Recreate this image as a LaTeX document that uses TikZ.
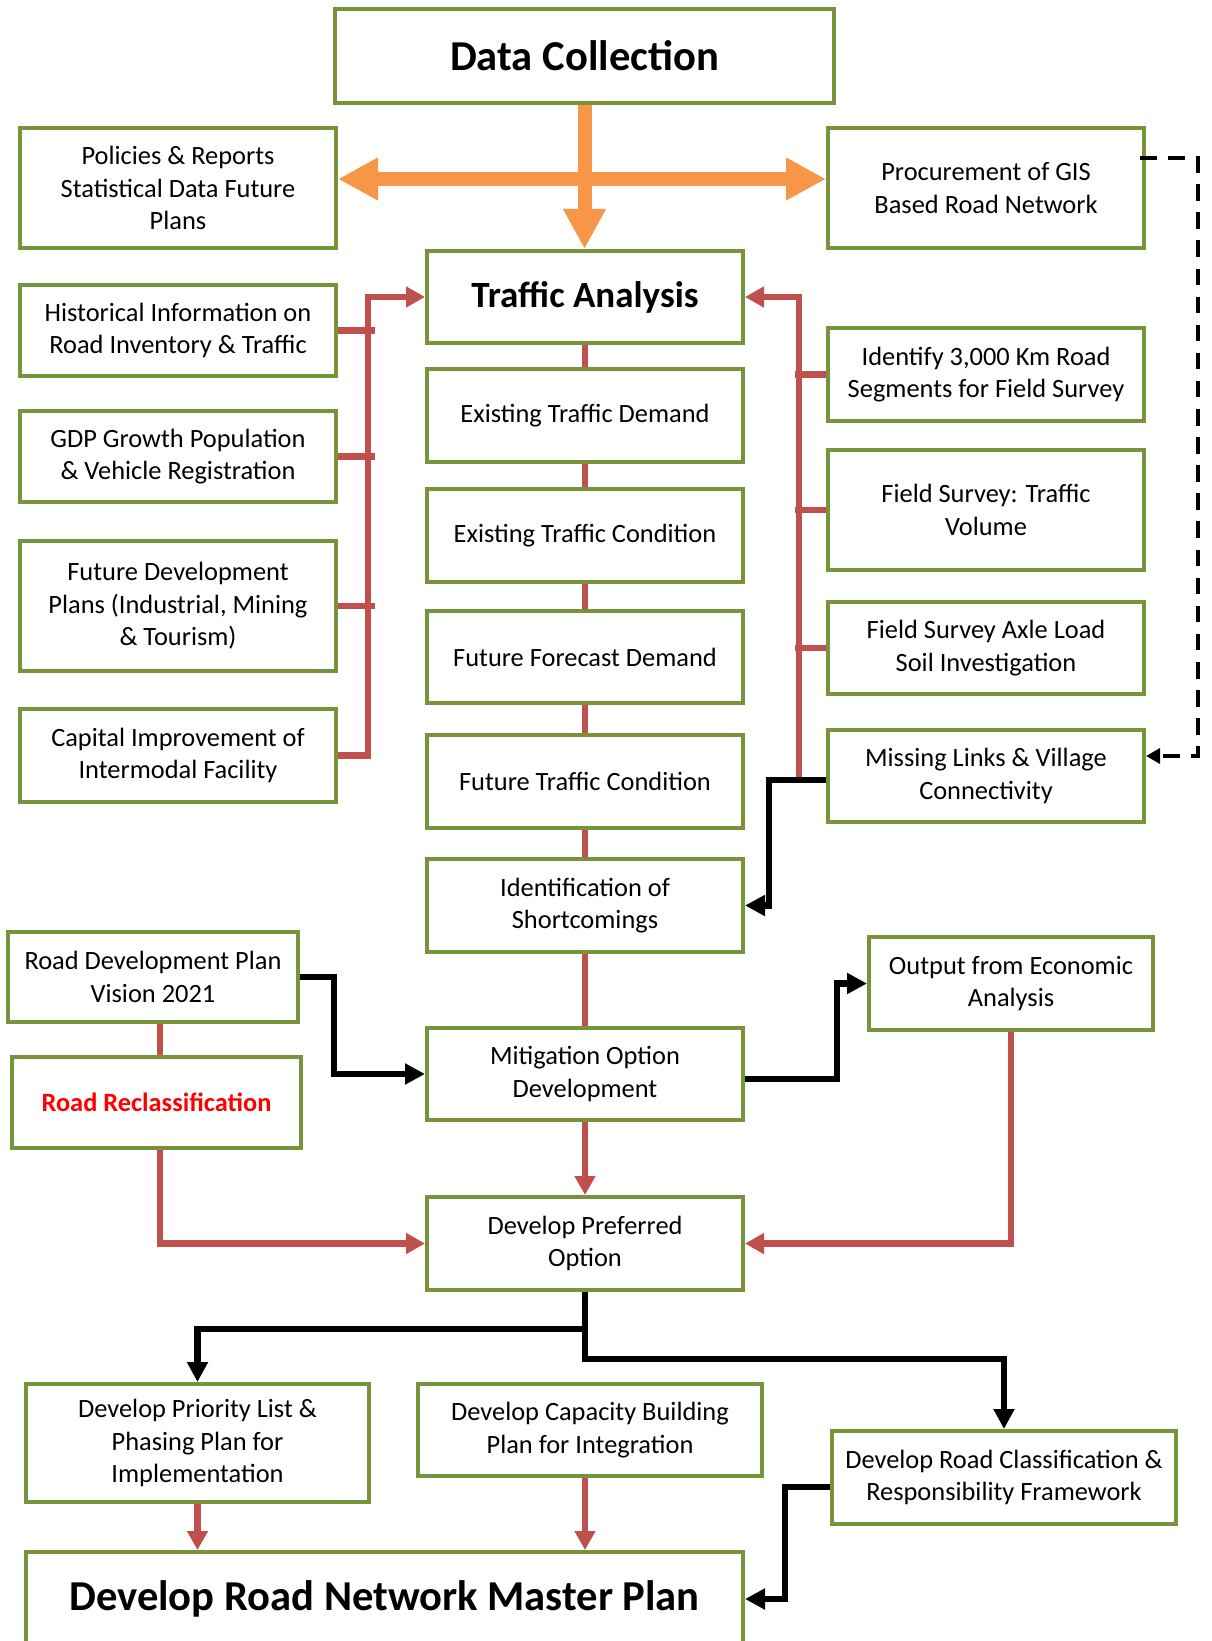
\documentclass[tikz,border=0pt]{standalone}
\usepackage{fontspec}
\setmainfont{Carlito}
\usetikzlibrary{arrows.meta,calc}
\definecolor{boxgreen}{HTML}{77933C}
\definecolor{linered}{HTML}{C0504D}
\definecolor{arrorange}{HTML}{F79646}
\definecolor{textred}{HTML}{FF0000}
\begin{document}
\begin{tikzpicture}[x=0.5pt,y=-0.5pt,
  box/.style={draw=boxgreen, line width=2pt, fill=white, align=center, inner sep=0pt,
    font=\fontsize{13.2}{16.2}\selectfont},
  bigtext/.style={font=\fontsize{21.3}{25}\selectfont\bfseries},
  midtext/.style={font=\fontsize{18.5}{22}\selectfont\bfseries},
  rl/.style={draw=linered, line width=3.4pt},
  bl/.style={draw=black, line width=3.3pt},
  ol/.style={draw=arrorange, line width=7pt},
  dl/.style={draw=black, line width=2.2pt, dash pattern=on 8.25pt off 5.8pt},
  rtip/.style={-{Triangle[length=9.5pt,width=10pt]}},
  btip/.style={-{Triangle[length=10pt,width=10pt]}},
  dtip/.style={-{Triangle[length=7pt,width=7.5pt]}}
]
\useasboundingbox (0,0) rectangle (1211,1641);
\fill[white] (0,0) rectangle (1211,1641);

% boxes
\node[box, bigtext, minimum width=249.5pt, minimum height=47pt] (dc) at (584.5,56) {Data Collection};
\node[box, minimum width=158pt, minimum height=60pt] (pol) at (178,188) {Policies \& Reports\\Statistical Data Future\\Plans};
\node[box, minimum width=158pt, minimum height=60pt] (gis) at (986,188) {Procurement of GIS\\Based Road Network};
\node[box, midtext, minimum width=158pt, minimum height=46pt] (ta) at (585,297) {Traffic Analysis};
\node[box, minimum width=158pt, minimum height=45.5pt] (hist) at (178,330.5) {Historical Information on\\Road Inventory \& Traffic};
\node[box, minimum width=158pt, minimum height=45.5pt] (gdp) at (178,456.5) {GDP Growth Population\\\& Vehicle Registration};
\node[box, minimum width=158pt, minimum height=65pt] (fut) at (178,606) {Future Development\\Plans (Industrial, Mining\\\& Tourism)};
\node[box, minimum width=158pt, minimum height=46.5pt] (cap) at (178,755.5) {Capital Improvement of\\Intermodal Facility};
\node[box, minimum width=158pt, minimum height=46.5pt] (etd) at (585,415.5) {Existing Traffic Demand};
\node[box, minimum width=158pt, minimum height=46.5pt] (etc) at (585,535.5) {Existing Traffic Condition};
\node[box, minimum width=158pt, minimum height=46pt] (ffd) at (585,657) {Future Forecast Demand};
\node[box, minimum width=158pt, minimum height=46.5pt] (ftc) at (585,781.5) {Future Traffic Condition};
\node[box, minimum width=158pt, minimum height=46.5pt] (ios) at (585,905.5) {Identification of\\Shortcomings};
\node[box, minimum width=158pt, minimum height=46.5pt] (id3) at (986,374.5) {Identify 3,000 Km Road\\Segments for Field Survey};
\node[box, minimum width=158pt, minimum height=60pt] (fst) at (986,510) {Field Survey: Traffic\\Volume};
\node[box, minimum width=158pt, minimum height=46pt] (fsa) at (986,648) {Field Survey Axle Load\\Soil Investigation};
\node[box, minimum width=158pt, minimum height=46pt] (mis) at (986,776) {Missing Links \& Village\\Connectivity};
\node[box, minimum width=145pt, minimum height=45pt] (rdp) at (153,977) {Road Development Plan\\Vision 2021};
\node[box, minimum width=144.5pt, minimum height=45.5pt, text=textred, font=\fontsize{13.2}{16.2}\selectfont\bfseries] (rr) at (156.5,1102.5) {Road Reclassification};
\node[box, minimum width=158pt, minimum height=46pt] (mit) at (585,1074) {Mitigation Option\\Development};
\node[box, minimum width=142pt, minimum height=46.5pt] (out) at (1011,983.5) {Output from Economic\\Analysis};
\node[box, minimum width=158pt, minimum height=46.5pt] (dp) at (585,1243.5) {Develop Preferred\\Option};
\node[box, minimum width=171.5pt, minimum height=59pt] (pri) at (197.5,1443) {Develop Priority List \&\\Phasing Plan for\\Implementation};
\node[box, minimum width=172pt, minimum height=46pt] (cb) at (590,1430) {Develop Capacity Building\\Plan for Integration};
\node[box, minimum width=172pt, minimum height=46.5pt] (rc) at (1004,1477.5) {Develop Road Classification \&\\Responsibility Framework};
\node[box, bigtext, minimum width=358.5pt, minimum height=47pt] (mp) at (384.5,1599) {Develop Road Network Master Plan};

% orange arrows
\draw[ol, {Triangle[length=20pt,width=20pt]}-{Triangle[length=20pt,width=20pt]}] ([yshift=4.5pt]pol.east) -- ([yshift=4.5pt]gis.west);
\draw[ol, -{Triangle[length=20pt,width=20pt]}] (dc.south) -- (dc.south |- ta.north);

% left red bus
\draw[rl, rtip] (cap.east) -| ($(ta.west)+(-57,0)$) -- (ta.west);
\draw[rl] (hist.east) -- ++(37,0);
\draw[rl] (gdp.east) -- ++(37,0);
\draw[rl] (fut.east) -- ++(37,0);

% central chain
\draw[rl] (ta.south) -- (etd.north);
\draw[rl] (etd.south) -- (etc.north);
\draw[rl] (etc.south) -- (ffd.north);
\draw[rl] (ffd.south) -- (ftc.north);
\draw[rl] (ftc.south) -- (ios.north);
\draw[rl] (ios.south) -- (mit.north);
\draw[rl, rtip] (mit.south) -- (dp.north);

% right red bus
\coordinate (rb) at (799,777);
\draw[rl, rtip] (rb) |- (ta.east);
\draw[rl] (id3.west) -- ++(-31,0);
\draw[rl] (fst.west) -- ++(-31,0);
\draw[rl] (fsa.west) -- ++(-31,0);

% black connectors
\draw[bl, btip] ([yshift=-2pt]mis.west) -- ++(-57,0) |- (ios.east);
\draw[bl, btip] (rdp.east) -- ++(34,0) |- (mit.west);
\draw[bl, btip] ([yshift=-2.5pt]mit.east) -- ++(92,0) |- (out.west);
\draw[bl, btip] (dp.south) -- ++(0,37) -| (pri.north);
\draw[bl, btip] (dp.south) -- ++(0,67) -| (rc.north);
\draw[bl, btip] ([yshift=-4.75pt]rc.west) -- ++(-45,0) |- (mp.east);

% dashed
\draw[dl, dtip] ([yshift=15pt,xshift=-3pt]gis.east) -- ++(58,0) |- ([yshift=10pt]mis.east);

% red lower connectors
\draw[rl] ([xshift=3.5pt]rdp.south) -- ([xshift=1.75pt]rr.north);
\draw[rl, rtip] ([xshift=1.75pt]rr.south) |- (dp.west);
\draw[rl, rtip] (out.south) |- (dp.east);
\draw[rl, rtip] (pri.south) -- (pri.south |- mp.north);
\draw[rl, rtip] (dp.south |- cb.south) -- (dp.south |- mp.north);
\end{tikzpicture}
\end{document}
